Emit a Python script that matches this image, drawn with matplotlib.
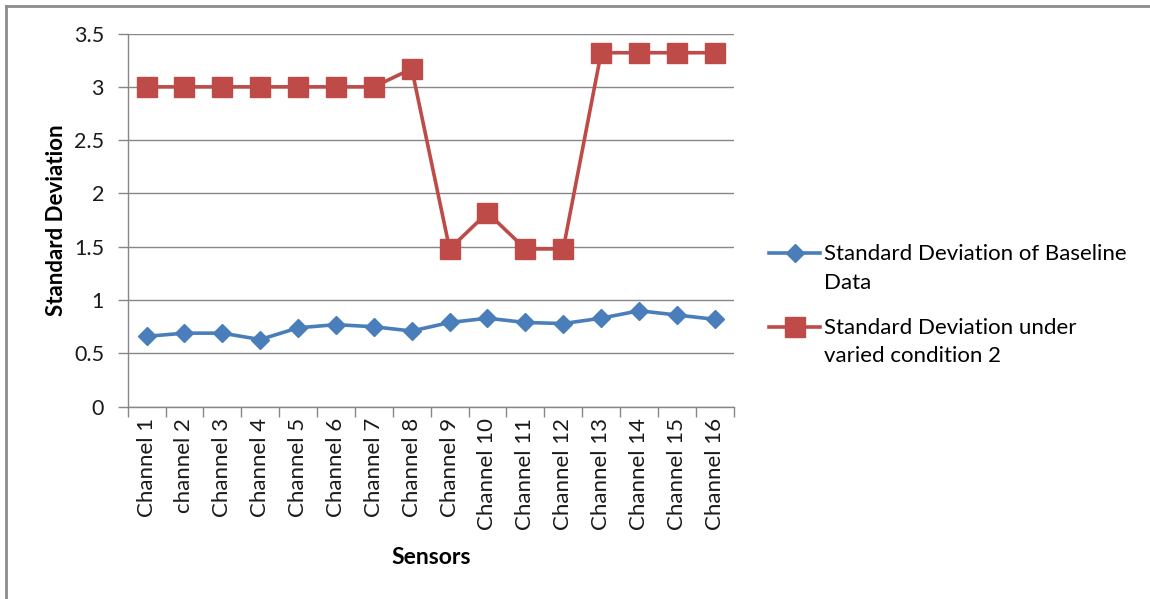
import matplotlib.pyplot as plt
from matplotlib.lines import Line2D
from matplotlib.legend_handler import HandlerLine2D

plt.rcParams['font.family'] = ['Lato', 'DejaVu Sans']

channels = ['Channel 1', 'channel 2', 'Channel 3', 'Channel 4', 'Channel 5',
            'Channel 6', 'Channel 7', 'Channel 8', 'Channel 9', 'Channel 10',
            'Channel 11', 'Channel 12', 'Channel 13', 'Channel 14',
            'Channel 15', 'Channel 16']
baseline_sd = [0.66, 0.69, 0.69, 0.63, 0.74, 0.77, 0.75, 0.71,
               0.79, 0.83, 0.79, 0.78, 0.83, 0.90, 0.86, 0.82]
varied_sd = [3.00, 3.00, 3.00, 3.00, 3.00, 3.00, 3.00, 3.17,
             1.48, 1.82, 1.48, 1.48, 3.32, 3.32, 3.32, 3.32]
yticks = [0, 0.5, 1, 1.5, 2, 2.5, 3, 3.5]
ytick_labels = ['0', '0.5', '1', '1.5', '2', '2.5', '3', '3.5']

BLUE = '#4A7EBB'
RED = '#BE4B48'
GRID = '#878787'
LEGEND_FS = 16


class FirstLineHandler(HandlerLine2D):
    '''line handle lined up with the first row of a two-row label'''

    def create_artists(self, legend, orig_handle, xdescent, ydescent,
                       width, height, fontsize, trans):
        artists = super().create_artists(legend, orig_handle, xdescent,
                                         ydescent, width, height, fontsize,
                                         trans)
        dy = 0.7 * fontsize
        for a in artists:
            a.set_ydata([y + dy for y in a.get_ydata()])
        return artists


fig = plt.figure(figsize=(11.5, 5.99), dpi=100)
ax = fig.add_axes([0.111, 0.321, 0.527, 0.623])

x = list(range(len(channels)))
ax.plot(x, baseline_sd, color=BLUE, lw=2.6, marker='D', ms=9,
        label='Standard Deviation of Baseline\nData')
ax.plot(x, varied_sd, color=RED, lw=2.6, marker='s', ms=14,
        label='Standard Deviation under\nvaried condition 2')

ax.set_xlim(-0.5, len(channels) - 0.5)
ax.set_ylim(0, 3.5)
ax.set_yticks(yticks)
ax.set_yticklabels(ytick_labels)
ax.yaxis.grid(True, color=GRID, lw=1.0)
ax.set_axisbelow(True)

# category boundaries carry the tick marks, labels sit at the centres
ax.set_xticks([i - 0.5 for i in range(len(channels) + 1)])
ax.set_xticklabels([])
ax.set_xticks(x, minor=True)
ax.set_xticklabels(channels, minor=True, rotation=90, fontsize=16,
                   color='#1a1a1a')
ax.tick_params(axis='x', which='minor', length=0, pad=8)
ax.tick_params(axis='x', which='major', length=7, color=GRID, width=1)
ax.tick_params(axis='y', length=7, color=GRID, width=1, pad=10,
               labelsize=15.5, labelcolor='#1a1a1a')

for side in ['top', 'right']:
    ax.spines[side].set_visible(False)
for side in ['left', 'bottom']:
    ax.spines[side].set_color(GRID)
    ax.spines[side].set_linewidth(1.0)

ax.set_ylabel('Standard Deviation', fontsize=16, fontweight='bold', labelpad=5)
ax.set_xlabel('Sensors', fontsize=16.5, fontweight='bold', labelpad=12)

fig.legend(loc='upper left', bbox_to_anchor=(0.669, 0.592), frameon=False,
           handlelength=2.3, handletextpad=0.15,
           labelspacing=1.1, borderpad=0, borderaxespad=0,
           handler_map={Line2D: FirstLineHandler()},
           prop={'size': LEGEND_FS})
for t in fig.legends[0].get_texts():
    t.set_linespacing(1.55)

# chart frame (top and left edges)
fig.add_artist(Line2D([0.005, 1.0], [0.99, 0.99], transform=fig.transFigure,
                      color='#8c8c8c', lw=2))
fig.add_artist(Line2D([0.005, 0.005], [0.0, 0.99], transform=fig.transFigure,
                      color='#8c8c8c', lw=2))

fig.savefig('out.png', dpi=100)
